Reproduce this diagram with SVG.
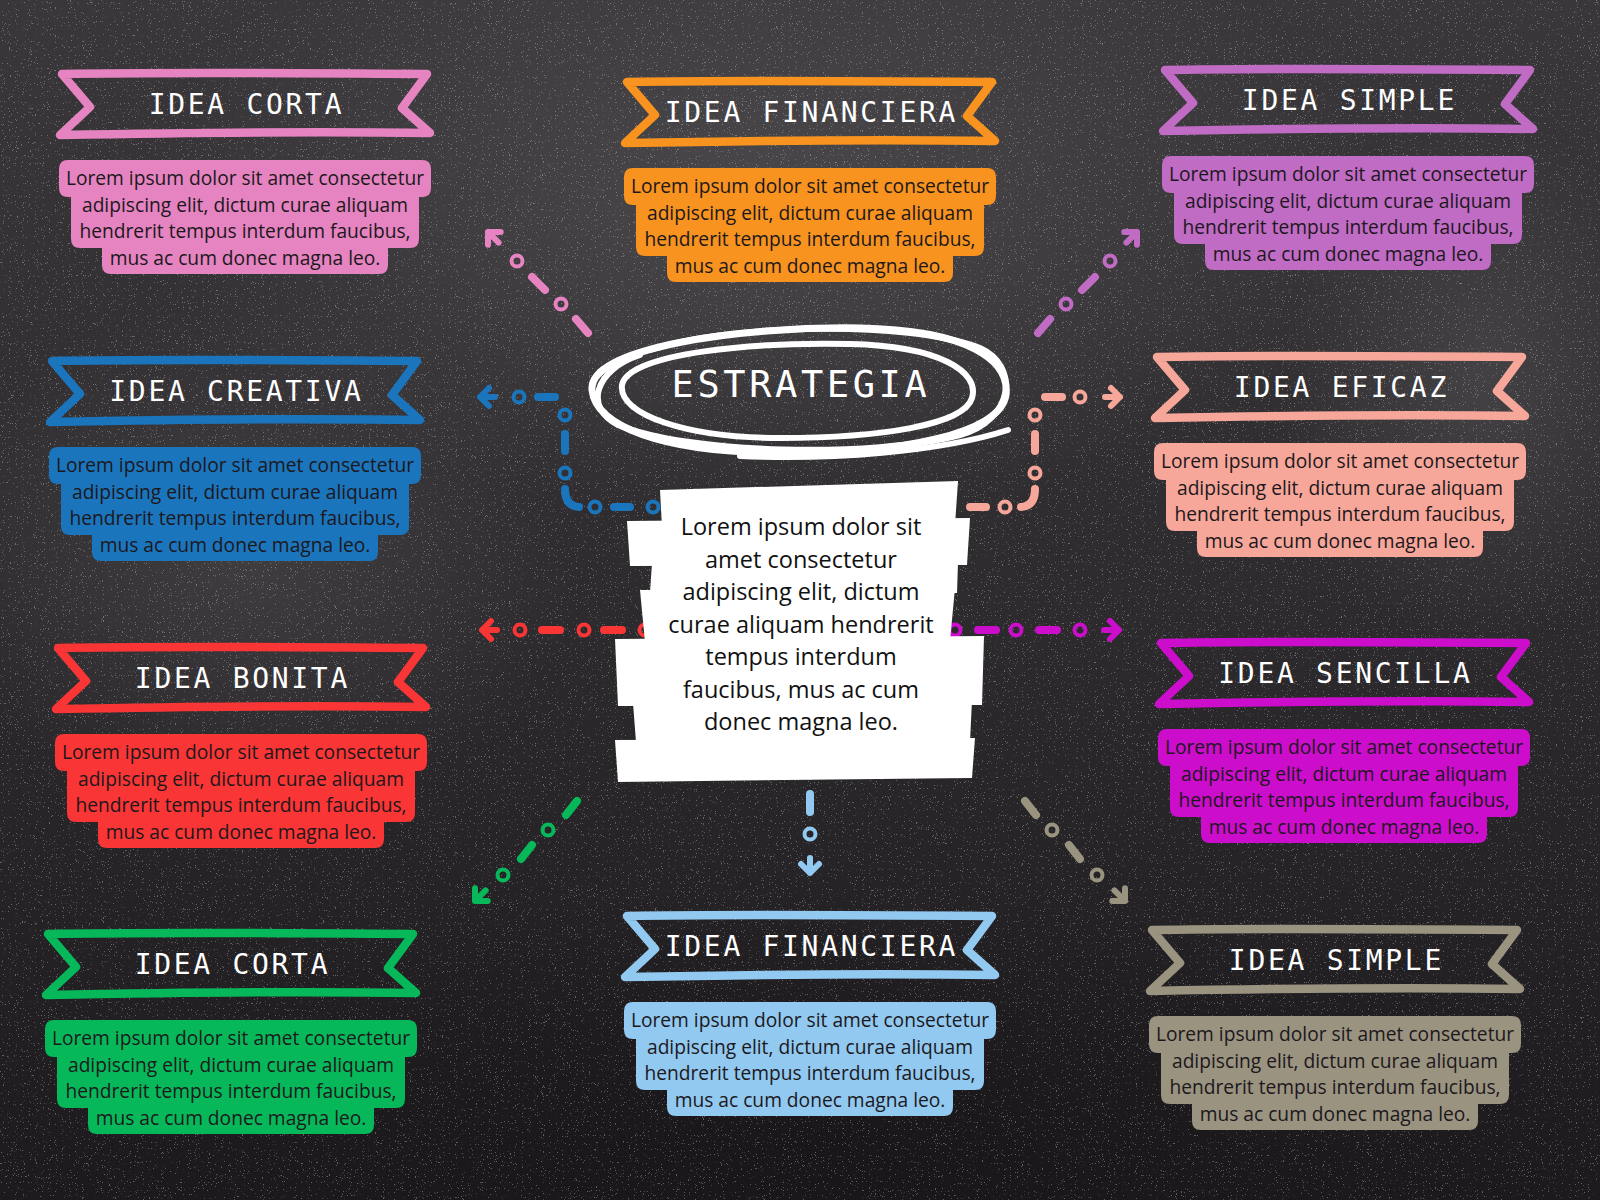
<svg xmlns="http://www.w3.org/2000/svg" xmlns:xlink="http://www.w3.org/1999/xlink" width="1600" height="1200" viewBox="0 0 1600 1200">
<defs>
<linearGradient id="bg" x1="0" y1="0" x2="0" y2="1">
<stop offset="0" stop-color="#39373a"/>
<stop offset="0.5" stop-color="#2d2b2e"/>
<stop offset="1" stop-color="#1c1a1d"/>
</linearGradient>
<radialGradient id="hl1" cx="0.5" cy="0.5" r="0.5">
<stop offset="0" stop-color="#5a585b" stop-opacity="0.55"/>
<stop offset="1" stop-color="#5a585b" stop-opacity="0"/>
</radialGradient>
<radialGradient id="dk" cx="0.5" cy="0.5" r="0.5">
<stop offset="0" stop-color="#141215" stop-opacity="0.5"/>
<stop offset="1" stop-color="#141215" stop-opacity="0"/>
</radialGradient>
<filter id="speck" x="0" y="0" width="100%" height="100%">
<feTurbulence type="fractalNoise" baseFrequency="0.85" numOctaves="2" seed="7"/>
<feColorMatrix type="matrix" values="0 0 0 0 1  0 0 0 0 1  0 0 0 0 1  14 0 0 0 -9.4"/>
</filter>
<path id="rib" d="M -183,-30 C -90,-32 60,-31 182,-30 L 157,4 L 185,29 C 60,27 -80,29 -185,31 L -155,3 Z" fill="none" stroke-width="8.5" stroke-linejoin="round" stroke-linecap="round"/>
<path id="box" d="M -177,56 L 177,56 Q 186,56 186,65 L 186,84 Q 186,93 177,93 L 174,93 L 174,135 Q 174,144 165,144 L 143,144 L 143,161 Q 143,170 134,170 L -134,170 Q -143,170 -143,161 L -143,144 L -165,144 Q -174,144 -174,135 L -174,93 L -177,93 Q -186,93 -186,84 L -186,65 Q -186,56 -177,56 Z"/>
<path id="arr" class="a" d="M-15,0 L0,0 M-9,-9 L0,0 L-9,9"/>
</defs>
<style>
.lbl{font-family:"DejaVu Sans Mono","Liberation Mono",monospace;font-size:28px;fill:#ffffff;text-anchor:middle;letter-spacing:2.7px}
.body{font-family:"Open Sans","Noto Sans","Liberation Sans",sans-serif;font-size:19.2px;fill:#1c181c;text-anchor:middle}
.main{font-family:"Open Sans","Noto Sans","Liberation Sans",sans-serif;font-size:23.5px;fill:#111111;text-anchor:middle}
.title{font-family:"DejaVu Sans Mono","Liberation Mono",monospace;font-size:37px;fill:#ffffff;text-anchor:middle;letter-spacing:3.6px}
.d{stroke-width:8;stroke-linecap:round;fill:none}
.o{stroke-width:4;fill:none}
.a{stroke-width:6;stroke-linecap:round;stroke-linejoin:round;fill:none}
.scr{fill:none;stroke:#ffffff;stroke-linecap:round}
</style>

<rect x="0" y="0" width="1600" height="1200" fill="url(#bg)"/>
<ellipse cx="760" cy="200" rx="620" ry="320" fill="url(#hl1)"/>
<ellipse cx="250" cy="560" rx="330" ry="260" fill="url(#hl1)" opacity="0.7"/>
<ellipse cx="1480" cy="380" rx="200" ry="260" fill="url(#hl1)" opacity="0.8"/>
<ellipse cx="820" cy="1150" rx="800" ry="260" fill="url(#dk)"/>
<rect x="0" y="0" width="1600" height="1200" filter="url(#speck)" opacity="0.3"/>

<g id="connectors">
<g stroke="#E584C0">
<line class="d" x1="588" y1="333" x2="576" y2="319"/>
<circle class="o" cx="561" cy="304" r="5.5"/>
<line class="d" x1="545" y1="290" x2="532" y2="277"/>
<circle class="o" cx="517" cy="261" r="5.5"/>
<use href="#arr" transform="translate(488,232) rotate(-135)"/>
</g>
<g stroke="#C06BC4">
<line class="d" x1="1038" y1="333" x2="1050" y2="319"/>
<circle class="o" cx="1066" cy="304" r="5.5"/>
<line class="d" x1="1082" y1="290" x2="1095" y2="277"/>
<circle class="o" cx="1110" cy="261" r="5.5"/>
<use href="#arr" transform="translate(1137,232) rotate(-45)"/>
</g>
<g stroke="#1B75BC">
<circle class="o" cx="653" cy="507" r="5.5"/>
<line class="d" x1="614" y1="507" x2="630" y2="507"/>
<circle class="o" cx="595" cy="507" r="5.5"/>
<path class="d" d="M565,489 Q565,506 579,507"/>
<circle class="o" cx="565" cy="473" r="5.5"/>
<line class="d" x1="565" y1="434" x2="565" y2="451"/>
<circle class="o" cx="565" cy="415" r="5.5"/>
<line class="d" x1="538" y1="397" x2="555" y2="397"/>
<circle class="o" cx="519" cy="397" r="5.5"/>
<use href="#arr" transform="translate(480,397) rotate(180)"/>
</g>
<g stroke="#F6A79A">
<line class="d" x1="970" y1="507" x2="986" y2="507"/>
<circle class="o" cx="1005" cy="507" r="5.5"/>
<path class="d" d="M1035,489 Q1035,506 1021,507"/>
<circle class="o" cx="1035" cy="473" r="5.5"/>
<line class="d" x1="1035" y1="434" x2="1035" y2="451"/>
<circle class="o" cx="1035" cy="415" r="5.5"/>
<line class="d" x1="1045" y1="397" x2="1062" y2="397"/>
<circle class="o" cx="1080" cy="397" r="5.5"/>
<use href="#arr" transform="translate(1120,397)"/>
</g>
<g stroke="#F93535">
<circle class="o" cx="645" cy="630" r="5.5"/>
<line class="d" x1="604" y1="630" x2="622" y2="630"/>
<circle class="o" cx="584" cy="630" r="5.5"/>
<line class="d" x1="542" y1="630" x2="560" y2="630"/>
<circle class="o" cx="520" cy="630" r="5.5"/>
<use href="#arr" transform="translate(482,630) rotate(180)"/>
</g>
<g stroke="#CC0DCC">
<circle class="o" cx="955" cy="630" r="5.5"/>
<line class="d" x1="978" y1="630" x2="996" y2="630"/>
<circle class="o" cx="1016" cy="630" r="5.5"/>
<line class="d" x1="1039" y1="630" x2="1057" y2="630"/>
<circle class="o" cx="1080" cy="630" r="5.5"/>
<use href="#arr" transform="translate(1119,630)"/>
</g>
<g stroke="#92C9F0">
<circle class="o" cx="810" cy="772" r="5.5"/>
<line class="d" x1="810" y1="794" x2="810" y2="812"/>
<circle class="o" cx="810" cy="834" r="5.5"/>
<use href="#arr" transform="translate(810,873) rotate(90)"/>
</g>
<g stroke="#07B85A">
<line class="d" x1="577" y1="801" x2="566" y2="815"/>
<circle class="o" cx="548" cy="830" r="5.5"/>
<line class="d" x1="532" y1="845" x2="521" y2="859"/>
<circle class="o" cx="503" cy="875" r="5.5"/>
<use href="#arr" transform="translate(475,901) rotate(135)"/>
</g>
<g stroke="#9A9380">
<line class="d" x1="1025" y1="801" x2="1036" y2="815"/>
<circle class="o" cx="1052" cy="830" r="5.5"/>
<line class="d" x1="1069" y1="845" x2="1080" y2="859"/>
<circle class="o" cx="1097" cy="875" r="5.5"/>
<use href="#arr" transform="translate(1125,901) rotate(45)"/>
</g>
</g>

<g id="estrategia">
<path class="scr" stroke-width="7" d="M592,390 C588,348 740,326 860,328 C968,330 1010,360 1006,395 C1000,434 900,454 780,453 C660,452 596,426 592,390 Z"/>
<path class="scr" stroke-width="6" d="M650,350 C730,324 905,320 980,348 C1020,366 1014,420 960,435 C872,458 690,454 618,425 C584,408 594,370 640,355"/>
<path class="scr" stroke-width="6" d="M622,385 C628,352 760,342 850,344 C940,346 980,372 972,398 C964,425 880,438 780,438 C688,438 618,415 622,385 Z"/>
<path class="scr" stroke-width="6" d="M740,456 C830,460 940,452 1008,430"/>
<text class="title" x="801" y="397">ESTRATEGIA</text>
</g>

<g id="center-text">
<path fill="#ffffff" d="M660,490 L958,481 L955,525 L662,527 Z"/>
<path fill="#ffffff" d="M627,521 L970,518 L967,565 L630,566 Z"/>
<path fill="#ffffff" d="M652,563 L958,561 L957,593 L650,593 Z"/>
<path fill="#ffffff" d="M640,590 L955,588 L950,641 L645,642 Z"/>
<path fill="#ffffff" d="M615,639 L984,636 L982,705 L618,706 Z"/>
<path fill="#ffffff" d="M633,703 L972,700 L970,742 L636,742 Z"/>
<path fill="#ffffff" d="M615,740 L975,738 L972,778 L618,782 Z"/>
<text class="main" x="801" y="535">Lorem ipsum dolor sit</text>
<text class="main" x="801" y="567.5">amet consectetur</text>
<text class="main" x="801" y="600">adipiscing elit, dictum</text>
<text class="main" x="801" y="632.5">curae aliquam hendrerit</text>
<text class="main" x="801" y="665">tempus interdum</text>
<text class="main" x="801" y="697.5">faucibus, mus ac cum</text>
<text class="main" x="801" y="730">donec magna leo.</text>
</g>

<g id="idea-corta-1" transform="translate(245,104)">
<use href="#rib" stroke="#E584C0"/>
<text class="lbl" x="1.4" y="10">IDEA CORTA</text>
<use href="#box" fill="#E584C0"/>
<text class="body" x="0" y="81">Lorem ipsum dolor sit amet consectetur</text>
<text class="body" x="0" y="107.7">adipiscing elit, dictum curae aliquam</text>
<text class="body" x="0" y="134.4">hendrerit tempus interdum faucibus,</text>
<text class="body" x="0" y="161">mus ac cum donec magna leo.</text>
</g>

<g id="idea-creativa" transform="translate(235,391)">
<use href="#rib" stroke="#1B75BC"/>
<text class="lbl" x="1.4" y="10">IDEA CREATIVA</text>
<use href="#box" fill="#1B75BC"/>
<text class="body" x="0" y="81">Lorem ipsum dolor sit amet consectetur</text>
<text class="body" x="0" y="107.7">adipiscing elit, dictum curae aliquam</text>
<text class="body" x="0" y="134.4">hendrerit tempus interdum faucibus,</text>
<text class="body" x="0" y="161">mus ac cum donec magna leo.</text>
</g>

<g id="idea-bonita" transform="translate(241,678)">
<use href="#rib" stroke="#F93535"/>
<text class="lbl" x="1.4" y="10">IDEA BONITA</text>
<use href="#box" fill="#F93535"/>
<text class="body" x="0" y="81">Lorem ipsum dolor sit amet consectetur</text>
<text class="body" x="0" y="107.7">adipiscing elit, dictum curae aliquam</text>
<text class="body" x="0" y="134.4">hendrerit tempus interdum faucibus,</text>
<text class="body" x="0" y="161">mus ac cum donec magna leo.</text>
</g>

<g id="idea-corta-2" transform="translate(231,964)">
<use href="#rib" stroke="#07B85A"/>
<text class="lbl" x="1.4" y="10">IDEA CORTA</text>
<use href="#box" fill="#07B85A"/>
<text class="body" x="0" y="81">Lorem ipsum dolor sit amet consectetur</text>
<text class="body" x="0" y="107.7">adipiscing elit, dictum curae aliquam</text>
<text class="body" x="0" y="134.4">hendrerit tempus interdum faucibus,</text>
<text class="body" x="0" y="161">mus ac cum donec magna leo.</text>
</g>

<g id="idea-financiera-1" transform="translate(810,112)">
<use href="#rib" stroke="#F7931E"/>
<text class="lbl" x="1.4" y="10">IDEA FINANCIERA</text>
<use href="#box" fill="#F7931E"/>
<text class="body" x="0" y="81">Lorem ipsum dolor sit amet consectetur</text>
<text class="body" x="0" y="107.7">adipiscing elit, dictum curae aliquam</text>
<text class="body" x="0" y="134.4">hendrerit tempus interdum faucibus,</text>
<text class="body" x="0" y="161">mus ac cum donec magna leo.</text>
</g>

<g id="idea-financiera-2" transform="translate(810,946)">
<use href="#rib" stroke="#92C9F0"/>
<text class="lbl" x="1.4" y="10">IDEA FINANCIERA</text>
<use href="#box" fill="#92C9F0"/>
<text class="body" x="0" y="81">Lorem ipsum dolor sit amet consectetur</text>
<text class="body" x="0" y="107.7">adipiscing elit, dictum curae aliquam</text>
<text class="body" x="0" y="134.4">hendrerit tempus interdum faucibus,</text>
<text class="body" x="0" y="161">mus ac cum donec magna leo.</text>
</g>

<g id="idea-simple-1" transform="translate(1348,100)">
<use href="#rib" stroke="#C06BC4"/>
<text class="lbl" x="1.4" y="10">IDEA SIMPLE</text>
<use href="#box" fill="#C06BC4"/>
<text class="body" x="0" y="81">Lorem ipsum dolor sit amet consectetur</text>
<text class="body" x="0" y="107.7">adipiscing elit, dictum curae aliquam</text>
<text class="body" x="0" y="134.4">hendrerit tempus interdum faucibus,</text>
<text class="body" x="0" y="161">mus ac cum donec magna leo.</text>
</g>

<g id="idea-eficaz" transform="translate(1340,387)">
<use href="#rib" stroke="#F6A79A"/>
<text class="lbl" x="1.4" y="10">IDEA EFICAZ</text>
<use href="#box" fill="#F6A79A"/>
<text class="body" x="0" y="81">Lorem ipsum dolor sit amet consectetur</text>
<text class="body" x="0" y="107.7">adipiscing elit, dictum curae aliquam</text>
<text class="body" x="0" y="134.4">hendrerit tempus interdum faucibus,</text>
<text class="body" x="0" y="161">mus ac cum donec magna leo.</text>
</g>

<g id="idea-sencilla" transform="translate(1344,673)">
<use href="#rib" stroke="#CC0DCC"/>
<text class="lbl" x="1.4" y="10">IDEA SENCILLA</text>
<use href="#box" fill="#CC0DCC"/>
<text class="body" x="0" y="81">Lorem ipsum dolor sit amet consectetur</text>
<text class="body" x="0" y="107.7">adipiscing elit, dictum curae aliquam</text>
<text class="body" x="0" y="134.4">hendrerit tempus interdum faucibus,</text>
<text class="body" x="0" y="161">mus ac cum donec magna leo.</text>
</g>

<g id="idea-simple-2" transform="translate(1335,960)">
<use href="#rib" stroke="#9A9380"/>
<text class="lbl" x="1.4" y="10">IDEA SIMPLE</text>
<use href="#box" fill="#9A9380"/>
<text class="body" x="0" y="81">Lorem ipsum dolor sit amet consectetur</text>
<text class="body" x="0" y="107.7">adipiscing elit, dictum curae aliquam</text>
<text class="body" x="0" y="134.4">hendrerit tempus interdum faucibus,</text>
<text class="body" x="0" y="161">mus ac cum donec magna leo.</text>
</g>
</svg>
